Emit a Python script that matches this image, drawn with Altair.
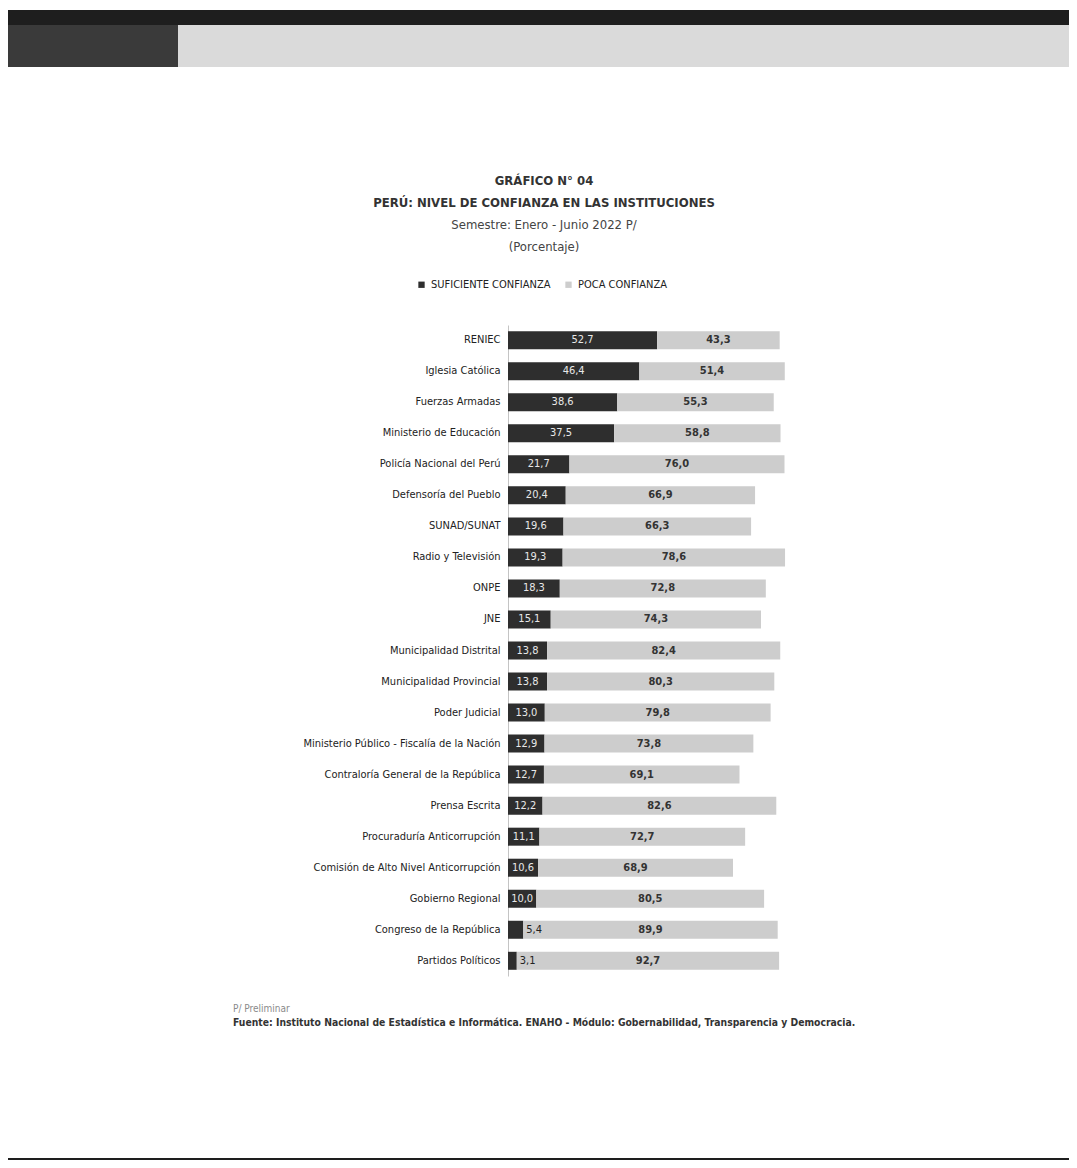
import altair as alt
import pandas as pd

instituciones = [
    "RENIEC", "Iglesia Católica", "Fuerzas Armadas", "Ministerio de Educación",
    "Policía Nacional del Perú", "Defensoría del Pueblo", "SUNAD/SUNAT",
    "Radio y Televisión", "ONPE", "JNE", "Municipalidad Distrital",
    "Municipalidad Provincial", "Poder Judicial",
    "Ministerio Público - Fiscalía de la Nación",
    "Contraloría General de la República", "Prensa Escrita",
    "Procuraduría Anticorrupción", "Comisión de Alto Nivel Anticorrupción",
    "Gobierno Regional", "Congreso de la República", "Partidos Políticos",
]
suficiente = [52.7, 46.4, 38.6, 37.5, 21.7, 20.4, 19.6, 19.3, 18.3, 15.1, 13.8,
              13.8, 13.0, 12.9, 12.7, 12.2, 11.1, 10.6, 10.0, 5.4, 3.1]
poca = [43.3, 51.4, 55.3, 58.8, 76.0, 66.9, 66.3, 78.6, 72.8, 74.3, 82.4,
        80.3, 79.8, 73.8, 69.1, 82.6, 72.7, 68.9, 80.5, 89.9, 92.7]
series = ["SUFICIENTE CONFIANZA", "POCA CONFIANZA"]

titulo = ["GRÁFICO N° 04", "PERÚ: NIVEL DE CONFIANZA EN LAS INSTITUCIONES"]
subtitulo = ["Semestre: Enero - Junio 2022 P/", "(Porcentaje)"]
nota = "P/ Preliminar"
fuente = ("Fuente: Instituto Nacional de Estadística e Informática.  "
          "ENAHO - Módulo: Gobernabilidad, Transparencia y Democracia.")

FONT = "Liberation Sans Narrow, DejaVu Sans Condensed, Liberation Sans, Arial"
DARK = "#2e2e2e"
LIGHT = "#cdcdcd"

rows = []
for i, name in enumerate(instituciones):
    s, p = suficiente[i], poca[i]
    rows.append({"inst": name, "serie": series[0], "start": 0.0, "end": s,
                 "mid": s / 2, "val": s, "lab": f"{s:.1f}".replace(".", ","),
                 "small": s < 8})
    rows.append({"inst": name, "serie": series[1], "start": s, "end": s + p,
                 "mid": s + p / 2, "val": p, "lab": f"{p:.1f}".replace(".", ","),
                 "small": False})
df = pd.DataFrame(rows)

y_enc = alt.Y("inst:N", sort=instituciones, title=None,
              scale=alt.Scale(paddingInner=0.42, paddingOuter=0.2),
              axis=alt.Axis(labelFont=FONT, labelFontSize=11, labelColor="#222222",
                            ticks=False, labelPadding=8, domainColor="#c4c4c4",
                            labelLimit=400))
x_scale = alt.Scale(domain=[0, 100], nice=False, zero=True)

one = pd.DataFrame({"k": [0]})

# page decoration (scan frame)
top_band = alt.Chart(one).mark_rect(color="#1e1e1e").encode(
    x=alt.value(-508), x2=alt.value(569), y=alt.value(-315), y2=alt.value(-300))
gray_band = alt.Chart(one).mark_rect(color="#dadada").encode(
    x=alt.value(-330), x2=alt.value(569), y=alt.value(-300), y2=alt.value(-258))
dark_band = alt.Chart(one).mark_rect(color="#3a3a3a").encode(
    x=alt.value(-508), x2=alt.value(-330), y=alt.value(-300), y2=alt.value(-258))
bottom_band = alt.Chart(one).mark_rect(color="#1e1e1e").encode(
    x=alt.value(-508), x2=alt.value(569), y=alt.value(833), y2=alt.value(843))

bars = alt.Chart(df).mark_bar().encode(
    x=alt.X("start:Q", scale=x_scale, axis=None),
    x2="end:Q",
    y=y_enc,
    color=alt.Color("serie:N", sort=series,
                    scale=alt.Scale(domain=series, range=[DARK, LIGHT]),
                    legend=alt.Legend(title=None, orient="none", direction="horizontal",
                                      legendX=-92, legendY=-46, symbolType="square",
                                      symbolSize=40, symbolStrokeWidth=0,
                                      labelFont=FONT, labelFontSize=11,
                                      labelColor="#222222", columnPadding=12,
                                      symbolOpacity=1)),
)

dark_in = alt.Chart(df).transform_filter(
    (alt.datum.serie == series[0]) & (alt.datum.small == False)
).mark_text(font=FONT, fontSize=11, color="#e8e8e8").encode(
    x=alt.X("mid:Q", scale=x_scale), y=alt.Y("inst:N", sort=instituciones), text="lab:N")

dark_out = alt.Chart(df).transform_filter(
    (alt.datum.serie == series[0]) & (alt.datum.small == True)
).mark_text(font=FONT, fontSize=11, color="#222222", align="left", dx=3).encode(
    x=alt.X("end:Q", scale=x_scale), y=alt.Y("inst:N", sort=instituciones), text="lab:N")

light_lab = alt.Chart(df).transform_filter(
    alt.datum.serie == series[1]
).mark_text(font=FONT, fontSize=11, fontWeight="bold", color="#333333").encode(
    x=alt.X("mid:Q", scale=x_scale), y=alt.Y("inst:N", sort=instituciones), text="lab:N")

def text_line(txt, x, y, **kw):
    return alt.Chart(pd.DataFrame({"t": [txt]})).mark_text(
        font=FONT, baseline="middle", **kw).encode(
        x=alt.value(x), y=alt.value(y), text="t:N")

t1 = text_line(titulo[0], 36, -144, fontSize=13, fontWeight="bold", color="#333333")
t2 = text_line(titulo[1], 36, -122, fontSize=13, fontWeight="bold", color="#333333")
t3 = text_line(subtitulo[0], 36, -100, fontSize=13, color="#444444")
t4 = text_line(subtitulo[1], 36, -78, fontSize=13, color="#444444")

note1 = text_line(nota, -275, 684, fontSize=10, color="#8a8a8a", align="left")
note2 = text_line(fuente, -275, 698, fontSize=10.3, fontWeight="bold",
                  color="#333333", align="left")

chart = alt.layer(top_band, gray_band, dark_band, bottom_band,
                  bars, dark_in, dark_out, light_lab,
                  t1, t2, t3, t4, note1, note2).properties(
    width=283, height=651,
    background="white",
    autosize=alt.AutoSizeParams(type="none"),
    padding={"left": 500, "top": 317, "right": 278, "bottom": 184},
).configure_view(strokeWidth=0, stroke="transparent")

chart.save("out.html", embed_options={"renderer": "svg", "actions": False})
